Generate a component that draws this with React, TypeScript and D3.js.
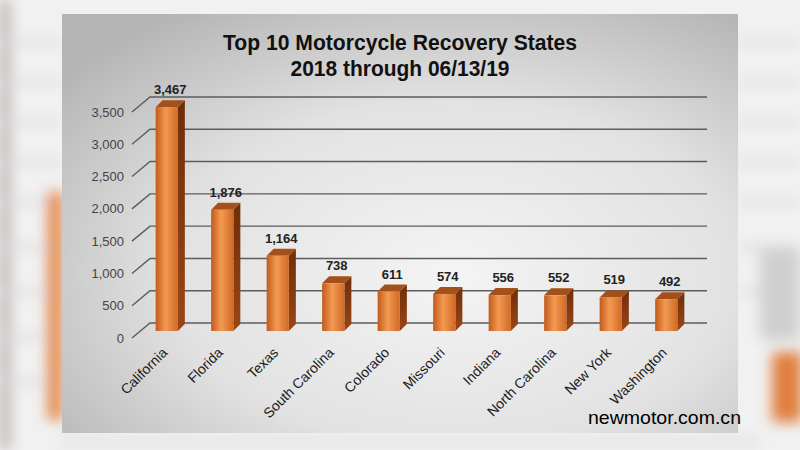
import React from "react";
import * as d3 from "d3";

const states = [
  "California",
  "Florida",
  "Texas",
  "South Carolina",
  "Colorado",
  "Missouri",
  "Indiana",
  "North Carolina",
  "New York",
  "Washington",
];
const recoveries = [3467, 1876, 1164, 738, 611, 574, 556, 552, 519, 492];
const yTicks = [0, 500, 1000, 1500, 2000, 2500, 3000, 3500];
const titleLines = ["Top 10 Motorcycle Recovery States", "2018 through 06/13/19"];

const W = 800;
const H = 450;

export default function App() {
  // back wall scale (gridlines) and bar front plane
  const yBack = d3.scaleLinear([0, 3500], [323, 97]);
  const yFront = d3.scaleLinear([0, 3500], [331, 105]);
  const x = d3
    .scaleBand<string>()
    .domain(states)
    .range([139, 694])
    .paddingInner(0.6)
    .paddingOuter(0.3);
  const bw = x.bandwidth();
  const depth = { dx: 7, dy: 7 };
  const wall = { dx: 18, dy: 15 };
  const fmt = d3.format(",");

  return (
    <svg
      width={W}
      height={H}
      style={{ position: "absolute", left: 0, top: 0 }}
      fontFamily="'Liberation Sans', Arial, sans-serif"
    >
      <defs>
        <filter id="blur" x="-50%" y="-50%" width="200%" height="200%">
          <feGaussianBlur stdDeviation="7" />
        </filter>
        <radialGradient id="panel" cx="0.58" cy="0.62" r="0.75">
          <stop offset="0" stopColor="#f4f4f4" />
          <stop offset="0.55" stopColor="#e2e2e2" />
          <stop offset="1" stopColor="#b4b4b4" />
        </radialGradient>
        <linearGradient id="front" x1="0" x2="1" y1="0" y2="0">
          <stop offset="0" stopColor="#c25a1a" />
          <stop offset="0.45" stopColor="#f39a52" />
          <stop offset="1" stopColor="#d06a26" />
        </linearGradient>
        <linearGradient id="side" x1="0" x2="0" y1="0" y2="1">
          <stop offset="0" stopColor="#6e2e0a" />
          <stop offset="1" stopColor="#9a4616" />
        </linearGradient>
        <linearGradient id="blob" x1="0" x2="1">
          <stop offset="0" stopColor="#d9773a" />
          <stop offset="1" stopColor="#f0a060" />
        </linearGradient>
      </defs>

      {/* blurred photo background */}
      <rect width={W} height={H} fill="#f1f1f1" />
      <g filter="url(#blur)">
        <rect x={0} y={0} width={10} height={H} fill="#b8b0ae" />
        {[40, 80, 120, 160, 200, 245, 290, 335, 380].map((yy) => (
          <rect key={"l" + yy} x={0} y={yy} width={62} height={4} fill="#d4d4d4" />
        ))}
        {[40, 80, 120, 160, 200, 245, 290].map((yy) => (
          <rect key={"r" + yy} x={738} y={yy} width={62} height={4} fill="#d4d4d4" />
        ))}
        <rect x={48} y={192} width={16} height={228} fill="url(#blob)" />
        <rect x={760} y={250} width={40} height={90} fill="#cfcfcf" />
        <rect x={772} y={352} width={30} height={70} fill="#e07e3c" />
        <rect x={60} y={438} width={700} height={8} fill="#e0e0e0" />
      </g>

      {/* panel */}
      <rect x={62} y={14} width={676} height={419} fill="url(#panel)" />

      {/* title */}
      {titleLines.map((t, i) => (
        <text
          key={t}
          x={400}
          y={50 + i * 26}
          textAnchor="middle"
          fontSize={22}
          fontWeight="bold"
          fill="#111"
          textLength={i === 0 ? 354 : 219}
          lengthAdjust="spacingAndGlyphs"
        >
          {t}
        </text>
      ))}

      {/* gridlines: floor diagonal + back wall */}
      <g stroke="#5c5c5c" strokeWidth={1.4} fill="none">
        {yTicks.map((t) => (
          <path
            key={t}
            d={`M${150 - wall.dx},${yBack(t) + wall.dy}L150,${yBack(t)}H707`}
          />
        ))}
      </g>

      {/* y tick labels */}
      {yTicks.map((t) => (
        <text
          key={t}
          x={124}
          y={yBack(t) + wall.dy}
          dy="0.35em"
          textAnchor="end"
          fontSize={13}
          fill="#444"
        >
          {fmt(t)}
        </text>
      ))}

      {/* bars */}
      {states.map((s, i) => {
        const v = recoveries[i];
        const x0 = x(s)!;
        const yt = yFront(v);
        const yb = yFront(0);
        const { dx, dy } = depth;
        return (
          <g key={s}>
            <polygon
              points={`${x0 + bw},${yt} ${x0 + bw + dx},${yt - dy} ${x0 + bw + dx},${yb - dy} ${x0 + bw},${yb}`}
              fill="url(#side)"
            />
            <polygon
              points={`${x0},${yt} ${x0 + dx},${yt - dy} ${x0 + bw + dx},${yt - dy} ${x0 + bw},${yt}`}
              fill="#a4501a"
            />
            <rect x={x0} y={yt} width={bw} height={yb - yt} fill="url(#front)" />
            <text
              x={x0 + bw / 2 + dx / 2}
              y={yt - dy - 6}
              textAnchor="middle"
              fontSize={13}
              fontWeight="bold"
              fill="#222"
            >
              {fmt(v)}
            </text>
            <text
              transform={`translate(${x0 + bw / 2 - 2},${350}) rotate(-45)`}
              textAnchor="end"
              dy="0.35em"
              fontSize={14}
              fill="#1a1a1a"
            >
              {s}
            </text>
          </g>
        );
      })}

      {/* watermark */}
      <text
        x={588}
        y={424}
        fontSize={19}
        fill="#000"
        textLength={153}
        lengthAdjust="spacingAndGlyphs"
      >
        newmotor.com.cn
      </text>
    </svg>
  );
}
